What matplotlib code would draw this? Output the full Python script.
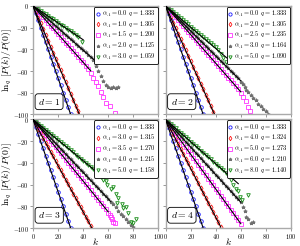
import matplotlib
matplotlib.use("Agg")
import matplotlib.pyplot as plt

plt.rcParams["font.family"] = "serif"
plt.rcParams["font.serif"] = ["cmr10", "DejaVu Serif"]
plt.rcParams["mathtext.fontset"] = "cm"
plt.rcParams["axes.formatter.use_mathtext"] = True

# -----------------------------------------------------------------------------------------
# Data: k grid and ln_q[P(k)/P(0)] values, one list per series
# series order in each panel: blue, red, magenta, gray, green
# -----------------------------------------------------------------------------------------
dims = [1, 2, 3, 4]
alphas = [
    ["0.0", "1.0", "1.5", "2.0", "3.0"],
    ["0.0", "2.0", "2.5", "3.0", "5.0"],
    ["0.0", "3.0", "3.5", "4.0", "5.0"],
    ["0.0", "4.0", "5.0", "6.0", "8.0"],
]
q_values = [
    ["1.333", "1.305", "1.200", "1.125", "1.059"],
    ["1.333", "1.305", "1.235", "1.164", "1.090"],
    ["1.333", "1.315", "1.270", "1.215", "1.158"],
    ["1.333", "1.324", "1.273", "1.210", "1.140"],
]

blue_k = list(range(0, 31, 2))
blue_y = [0, -6.7, -13.3, -20.0, -26.7, -33.3, -40.0, -46.7, -53.3, -60.0, -66.7, -73.3, -80.0, -86.7, -93.3, -100.0]

# d = 1
d1_k = [
    blue_k,
    list(range(0, 37, 2)),
    list(range(0, 45, 2)) + [46, 48, 50, 52, 54, 56, 58, 61, 65],
    list(range(0, 45, 2)) + [46, 48, 50, 52, 54, 56, 58, 60, 62, 64, 66, 68],
    list(range(0, 35, 2)) + [36, 39],
]
d1_y = [
    blue_y,
    [0, -5.4, -10.8, -16.2, -21.6, -27.0, -32.4, -37.8, -43.2, -48.6, -54.0, -59.4, -64.8, -70.2, -75.6,
     -81.0, -86.4, -91.8, -97.2],
    [0, -2.6, -5.2, -7.8, -10.4, -13.0, -15.6, -18.2, -20.8, -23.4, -26.0, -28.6, -31.2, -33.8, -36.4,
     -39.0, -41.6, -44.2, -46.8, -49.4, -52.0, -55.0, -58.5, -62, -66, -70, -74, -79, -84, -89, -92, -99],
    [0, -2.0, -4.1, -6.1, -8.2, -10.2, -12.2, -14.3, -16.3, -18.4, -20.4, -22.4, -24.5, -26.5, -28.6,
     -30.6, -32.6, -34.7, -36.7, -38.8, -40.8, -42.8, -44.9, -47, -50, -55, -60, -65, -69, -73, -75,
     -76, -75, -76, -75],
    [0, -1.6, -3.1, -4.7, -6.2, -7.8, -9.4, -10.9, -12.5, -14.0, -15.6, -17.2, -18.7, -20.3, -21.8,
     -23.4, -25.0, -26.5, -28.5, -33.0],
]

# d = 2
d2_k = [
    blue_k,
    list(range(0, 39, 2)),
    list(range(0, 59, 2)) + [60, 62, 64, 66, 67],
    list(range(0, 59, 2)) + [60, 62, 63, 64, 66, 68, 70, 72, 74, 76, 78, 80, 82],
    list(range(0, 41, 2)) + [42, 44, 46, 48],
]
d2_y = [
    blue_y,
    [0, -5.1, -10.2, -15.4, -20.5, -25.6, -30.7, -35.8, -41.0, -46.1, -51.2, -56.3, -61.4, -66.6, -71.7,
     -76.8, -81.9, -87.0, -92.2, -97.3],
    [0, -2.6, -5.3, -7.9, -10.6, -13.2, -15.8, -18.5, -21.1, -23.8, -26.4, -29.0, -31.7, -34.3, -37.0,
     -39.6, -42.2, -44.9, -47.5, -50.2, -52.8, -55.4, -58.1, -60.7, -63.4, -66.0, -68.6, -71.3, -73.9,
     -76.6, -80, -84, -88, -93, -97],
    [0, -2.3, -4.6, -6.9, -9.2, -11.5, -13.8, -16.1, -18.4, -20.7, -23.0, -25.3, -27.6, -29.9, -32.2,
     -34.5, -36.8, -39.1, -41.4, -43.7, -46.0, -48.3, -50.6, -52.9, -55.2, -57.5, -59.8, -62.1, -64.4,
     -66.7, -70, -72, -75, -77, -79, -82, -85, -87, -90, -92, -95, -97, -100],
    [0, -1.9, -3.8, -5.7, -7.6, -9.5, -11.4, -13.3, -15.2, -17.1, -19.0, -20.9, -22.8, -24.7, -26.6,
     -28.5, -30.4, -32.3, -34.2, -36.1, -38.0, -41, -44, -48, -52],
]

# d = 3
d3_k = [
    blue_k,
    list(range(0, 47, 2)),
    list(range(0, 59, 2)) + [60, 61, 62, 63, 64, 65],
    list(range(0, 61, 2)) + [62, 64, 66, 68, 70, 72, 74, 76, 78, 80],
    list(range(0, 51, 2)) + [54, 56, 58, 59, 62, 64, 66, 67, 68, 71, 72, 74, 76, 78, 80, 82],
]
d3_y = [
    blue_y,
    [0, -4.3, -8.5, -12.8, -17.0, -21.3, -25.6, -29.8, -34.1, -38.3, -42.6, -46.9, -51.1, -55.4, -59.6,
     -63.9, -68.2, -72.4, -76.7, -80.9, -85.2, -89.5, -93.7, -98.0],
    [0, -2.8, -5.7, -8.5, -11.4, -14.2, -17.0, -19.9, -22.7, -25.6, -28.4, -31.2, -34.1, -36.9, -39.8,
     -42.6, -45.4, -48.3, -51.1, -54.0, -56.8, -59.6, -62.5, -65.3, -68.2, -71.0, -73.8, -76.7, -79.5,
     -82.4, -86, -88, -90, -92, -94, -95],
    [0, -2.4, -4.9, -7.3, -9.8, -12.2, -14.6, -17.1, -19.5, -22.0, -24.4, -26.8, -29.3, -31.7, -34.2,
     -36.6, -39.0, -41.5, -43.9, -46.4, -48.8, -51.2, -53.7, -56.1, -58.6, -61.0, -63.4, -65.9, -68.3,
     -70.8, -73.2, -76, -78, -81, -84, -87, -89, -92, -94, -97, -99],
    [0, -1.9, -3.8, -5.7, -7.6, -9.5, -11.4, -13.3, -15.2, -17.1, -19.0, -20.9, -22.8, -24.7, -26.6,
     -28.5, -30.4, -32.3, -34.2, -36.1, -38.0, -39.9, -41.8, -43.7, -45.6, -47.5, -53, -56, -57, -60,
     -64, -62, -69, -77, -72, -78, -82, -81, -86, -94, -95, -92],
]

# d = 4
d4_k = [
    blue_k,
    list(range(0, 45, 2)),
    list(range(0, 61, 2)),
    list(range(0, 61, 2)) + [62, 63, 64, 66, 68, 70],
    list(range(0, 51, 2)) + [52, 54, 56, 58, 59, 61, 66],
]
d4_y = [
    blue_y,
    [0, -4.5, -9.0, -13.5, -18.0, -22.5, -27.0, -31.5, -36.0, -40.5, -45.0, -49.5, -54.0, -58.5, -63.0,
     -67.5, -72.0, -76.5, -81.0, -85.5, -90.0, -94.5, -99.0],
    [0, -3.2, -6.4, -9.6, -12.8, -16.0, -19.2, -22.4, -25.6, -28.8, -32.0, -35.2, -38.4, -41.6, -44.8,
     -48.0, -51.2, -54.4, -57.6, -60.8, -64.0, -67.2, -70.4, -73.6, -76.8, -80.0, -83.2, -86.4, -89.6,
     -92.8, -96.0],
    [0, -2.5, -5.1, -7.6, -10.2, -12.7, -15.2, -17.8, -20.3, -22.9, -25.4, -27.9, -30.5, -33.0, -35.6,
     -38.1, -40.6, -43.2, -45.7, -48.3, -50.8, -53.3, -55.9, -58.4, -61.0, -63.5, -66.0, -68.6, -71.1,
     -73.7, -76.2, -81, -84, -90, -92, -95, -94],
    [0, -2.0, -4.1, -6.1, -8.2, -10.2, -12.2, -14.3, -16.3, -18.4, -20.4, -22.4, -24.5, -26.5, -28.6,
     -30.6, -32.6, -34.7, -36.7, -38.8, -40.8, -42.8, -44.9, -46.9, -49.0, -51.0, -56, -60, -64, -66,
     -71, -74, -70],
]

# fitted straight lines: slope and last k for each series
fit_slopes = [
    [-3.33, -2.70, -1.30, -1.02, -0.78],
    [-3.33, -2.56, -1.32, -1.15, -0.98],
    [-3.33, -2.13, -1.42, -1.22, -0.95],
    [-3.33, -2.25, -1.60, -1.27, -1.02],
]
fit_kmax = [
    [30, 37, 46, 50, 40],
    [30, 39, 60, 60, 50],
    [30, 47, 60, 62, 52],
    [30, 44, 60, 60, 58],
]

all_k = [d1_k, d2_k, d3_k, d4_k]
all_y = [d1_y, d2_y, d3_y, d4_y]

colors = ["#1a1aff", "#ff1a1a", "#ff33ff", "#707070", "#138a13"]
markers = ["o", "d", "s", "*", "v"]

fig, axes = plt.subplots(2, 2, figsize=(3, 2.46), dpi=100, sharex=True, sharey=True)
plt.subplots_adjust(left=0.11, right=0.97, top=0.976, bottom=0.073, wspace=0.056, hspace=0.046)

for p, ax in enumerate(axes.flat):
    for s in range(5):
        kk = fit_kmax[p][s]
        ax.plot([0, kk], [0, fit_slopes[p][s] * kk], color="black", lw=0.8, zorder=3)
        filled = colors[s] if markers[s] == "*" else "none"
        ax.plot(all_k[p][s], all_y[p][s], linestyle="none", marker=markers[s], ms=2.6,
                mfc=filled, mec=colors[s], mew=0.6, zorder=2,
                label=r"$\alpha_A=%s\;\; q=%s$" % (alphas[p][s], q_values[p][s]))
    ax.set_xlim(0, 100)
    ax.set_ylim(-100, 0)
    ax.set_xticks([0, 20, 40, 60, 80, 100])
    ax.set_yticks([0, -20, -40, -60, -80, -100])
    for sp in ax.spines.values():
        sp.set_color("#aaaaaa")
        sp.set_linewidth(1.0)
    ax.tick_params(direction="out", length=2, width=0.6, color="#888888", labelsize=4.5, pad=1)
    leg = ax.legend(loc="upper right", fontsize=4.7, handlelength=0.6, handletextpad=0.3,
                    borderpad=0.3, labelspacing=0.1, borderaxespad=0.15, fancybox=True,
                    framealpha=1, edgecolor="black", markerscale=0.9)
    leg.get_frame().set_linewidth(0.6)
    ax.text(0.04, 0.09, r"$d=%d$" % dims[p], transform=ax.transAxes, fontsize=7,
            bbox=dict(boxstyle="round,pad=0.3", fc="white", ec="black", lw=0.6))

for ax in axes[:, 0]:
    ax.set_ylabel(r"$\ln_q\,[P(k)/P(0)]$", fontsize=7)
    ax.yaxis.set_label_coords(-0.15, 0.5)
for ax in axes[1, :]:
    ax.set_xlabel(r"$k$", fontsize=7)
    ax.xaxis.set_label_coords(0.5, -0.07)

plt.savefig("out.png", dpi=100)
